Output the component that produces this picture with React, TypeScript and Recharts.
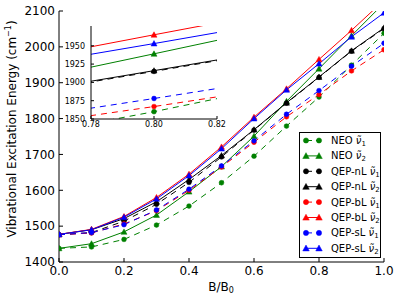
import React from 'react';
import { LineChart, Line, XAxis, YAxis, Legend, CartesianGrid } from 'recharts';

// B/B0 values on the x axis
const bRatio = [0, 0.1, 0.2, 0.3, 0.4, 0.5, 0.6, 0.7, 0.8, 0.9, 1.0];

// excitation energies, cm^-1
const neoNu1 = [1438, 1442, 1463, 1503, 1556, 1621, 1695, 1779, 1860, 1949, 2038];
const neoNu2 = [1438, 1451, 1484, 1531, 1596, 1666, 1751, 1848, 1939, 2031, 2122];
const nlNu1 = [1476, 1482, 1514, 1561, 1622, 1693, 1768, 1843, 1915, 1988, 2051];
const nlNu2 = [1477, 1490, 1521, 1568, 1630, 1697, 1769, 1844, 1916, 1989, 2053];
const blNu1 = [1476, 1481, 1506, 1543, 1600, 1665, 1734, 1805, 1867, 1933, 1992];
const blNu2 = [1477, 1491, 1527, 1580, 1645, 1721, 1804, 1883, 1965, 2046, 2130];
const slNu1 = [1476, 1482, 1504, 1545, 1603, 1668, 1738, 1812, 1878, 1946, 2010];
const slNu2 = [1477, 1490, 1525, 1576, 1641, 1716, 1800, 1880, 1953, 2028, 2095];

const mainXTicks = [0, 0.2, 0.4, 0.6, 0.8, 1.0];
const mainYTicks = [1400, 1500, 1600, 1700, 1800, 1900, 2000, 2100];
const insetXTicks = [0.78, 0.8, 0.82];
const insetYTicks = [1850, 1875, 1900, 1925, 1950];

const FONT = '"DejaVu Sans", sans-serif';

const series = [
  { key: 'neoNu1', method: 'NEO', mode: 1, color: '#008000', values: neoNu1 },
  { key: 'neoNu2', method: 'NEO', mode: 2, color: '#008000', values: neoNu2 },
  { key: 'nlNu1', method: 'QEP-nL', mode: 1, color: '#000000', values: nlNu1 },
  { key: 'nlNu2', method: 'QEP-nL', mode: 2, color: '#000000', values: nlNu2 },
  { key: 'blNu1', method: 'QEP-bL', mode: 1, color: '#ff0000', values: blNu1 },
  { key: 'blNu2', method: 'QEP-bL', mode: 2, color: '#ff0000', values: blNu2 },
  { key: 'slNu1', method: 'QEP-sL', mode: 1, color: '#0000ff', values: slNu1 },
  { key: 'slNu2', method: 'QEP-sL', mode: 2, color: '#0000ff', values: slNu2 },
];

const data = bRatio.map((b, i) => {
  const row: Record<string, number> = { b };
  series.forEach((s) => (row[s.key] = s.values[i]));
  return row;
});

const DASH = '6 5';

function marker(mode: number, color: string, cx: number, cy: number, r: number, key?: any) {
  if (mode === 1) return <circle key={key} cx={cx} cy={cy} r={r} fill={color} stroke={color} strokeWidth={0.5} />;
  const h = r * 1.25;
  return (
    <path
      key={key}
      d={`M${cx},${cy - h} L${cx + h},${cy + h * 0.8} L${cx - h},${cy + h * 0.8} Z`}
      fill={color}
      stroke={color}
      strokeWidth={0.5}
    />
  );
}

const makeDot = (mode: number, color: string, r: number) => (props: any) => {
  const { cx, cy, index } = props;
  if (cx == null || cy == null) return <g key={index} />;
  return marker(mode, color, cx, cy, r, index);
};

const nuLabel = (mode: number, sub: number) => (
  <>
    <tspan fontStyle="italic">ν̃</tspan>
    <tspan fontSize={sub} dy={2}>{mode}</tspan>
  </>
);

const renderLegend = () => (
  <svg width={82} height={126} style={{ display: 'block' }}>
    <rect x={0.5} y={0.5} width={81} height={125} fill="#fff" stroke="#000" />
    {series.map((s, i) => {
      const y = 8.5 + i * 15.4;
      return (
        <g key={s.key}>
          <line x1={7} x2={20} y1={y} y2={y} stroke={s.color} strokeDasharray={s.mode === 1 ? '4 4' : undefined} strokeDashoffset={-2} />
          {marker(s.mode, s.color, 7, y, 2.6)}
          {marker(s.mode, s.color, 20, y, 2.6)}
          <text x={32} y={y + 3.5} fontSize={10} fontFamily={FONT} fill="#000">
            {s.method + ' '}
            {nuLabel(s.mode, 7)}
          </text>
        </g>
      );
    })}
  </svg>
);

const axisStyle = { stroke: '#000' };

export default function App() {
  return (
    <div style={{ position: 'absolute', left: 0, top: 0, width: 399, height: 300, background: '#fff', fontFamily: FONT }}>
      <LineChart width={399} height={300} data={data} margin={{ top: 11, right: 15, left: 0, bottom: 0 }}>
        <XAxis
          dataKey="b"
          type="number"
          domain={[0, 1]}
          ticks={mainXTicks}
          tickFormatter={(v: number) => v.toFixed(1)}
          allowDataOverflow
          height={38}
          tickSize={-4}
          tickMargin={8}
          axisLine={axisStyle}
          tickLine={axisStyle}
          tick={{ fill: '#000', fontSize: 12, fontFamily: FONT }}
          label={{
            content: () => (
              <text x={221} y={291} textAnchor="middle" fontSize={12} fontFamily={FONT} fill="#000">
                B/B<tspan fontSize={8} dy={2}>0</tspan>
              </text>
            ),
          }}
        />
        <XAxis
          xAxisId="top"
          orientation="top"
          dataKey="b"
          type="number"
          domain={[0, 1]}
          ticks={mainXTicks}
          allowDataOverflow
          height={0}
          tick={false}
          tickSize={-4}
          axisLine={axisStyle}
          tickLine={axisStyle}
        />
        <YAxis
          type="number"
          domain={[1400, 2100]}
          ticks={mainYTicks}
          allowDataOverflow
          width={59}
          tickSize={-4}
          tickMargin={8}
          axisLine={axisStyle}
          tickLine={axisStyle}
          tick={{ fill: '#000', fontSize: 12, fontFamily: FONT }}
          label={{
            content: () => (
              <text
                x={12}
                y={129}
                transform="rotate(-90 12 129)"
                textAnchor="middle"
                dominantBaseline="central"
                fontSize={12}
                fontFamily={FONT}
                fill="#000"
              >
                Vibrational Excitation Energy (cm<tspan fontSize={8} dy={-4}>−1</tspan>
                <tspan dy={4}>)</tspan>
              </text>
            ),
          }}
        />
        <YAxis
          yAxisId="right"
          orientation="right"
          type="number"
          domain={[1400, 2100]}
          ticks={mainYTicks}
          allowDataOverflow
          width={0}
          tick={false}
          tickSize={-4}
          axisLine={axisStyle}
          tickLine={axisStyle}
        />
        {series.map((s) => (
          <Line
            key={s.key}
            dataKey={s.key}
            stroke={s.color}
            strokeWidth={1}
            strokeDasharray={s.mode === 1 ? DASH : undefined}
            dot={makeDot(s.mode, s.color, 2.4)}
            activeDot={false}
            isAnimationActive={false}
          />
        ))}
        <Legend
          layout="vertical"
          align="center"
          verticalAlign="middle"
          wrapperStyle={{ left: 299, top: 132, width: 82, height: 126 }}
          content={renderLegend}
        />
      </LineChart>

      {/* inset zoom around B/B0 = 0.8 */}
      <div style={{ position: 'absolute', left: 50, top: 20 }}>
        <LineChart width={180} height={120} data={data} margin={{ top: 6, right: 13, left: 0, bottom: 0 }}>
          <CartesianGrid horizontal={false} vertical={false} fill="#fff" />
          <XAxis
            dataKey="b"
            type="number"
            domain={[0.78, 0.82]}
            ticks={insetXTicks}
            tickFormatter={(v: number) => v.toFixed(2)}
            allowDataOverflow
            height={21}
            tickSize={-3}
            tickMargin={5}
            axisLine={axisStyle}
            tickLine={axisStyle}
            tick={{ fill: '#000', fontSize: 8, fontFamily: FONT }}
          />
          <XAxis
            xAxisId="top"
            orientation="top"
            dataKey="b"
            type="number"
            domain={[0.78, 0.82]}
            ticks={insetXTicks}
            allowDataOverflow
            height={0}
            tick={false}
            tickSize={-3}
            axisLine={axisStyle}
            tickLine={axisStyle}
          />
          <YAxis
            type="number"
            domain={[1850, 1977]}
            ticks={insetYTicks}
            allowDataOverflow
            width={41}
            tickSize={-3}
            tickMargin={9}
            axisLine={axisStyle}
            tickLine={axisStyle}
            tick={{ fill: '#000', fontSize: 8, fontFamily: FONT }}
          />
          <YAxis
            yAxisId="right"
            orientation="right"
            type="number"
            domain={[1850, 1977]}
            ticks={insetYTicks}
            allowDataOverflow
            width={0}
            tick={false}
            tickSize={-3}
            axisLine={axisStyle}
            tickLine={axisStyle}
          />
          {series.map((s) => (
            <Line
              key={s.key}
              dataKey={s.key}
              stroke={s.color}
              strokeWidth={1}
              strokeDasharray={s.mode === 1 ? DASH : undefined}
              dot={makeDot(s.mode, s.color, 2.4)}
              activeDot={false}
              isAnimationActive={false}
            />
          ))}
        </LineChart>
      </div>
    </div>
  );
}
